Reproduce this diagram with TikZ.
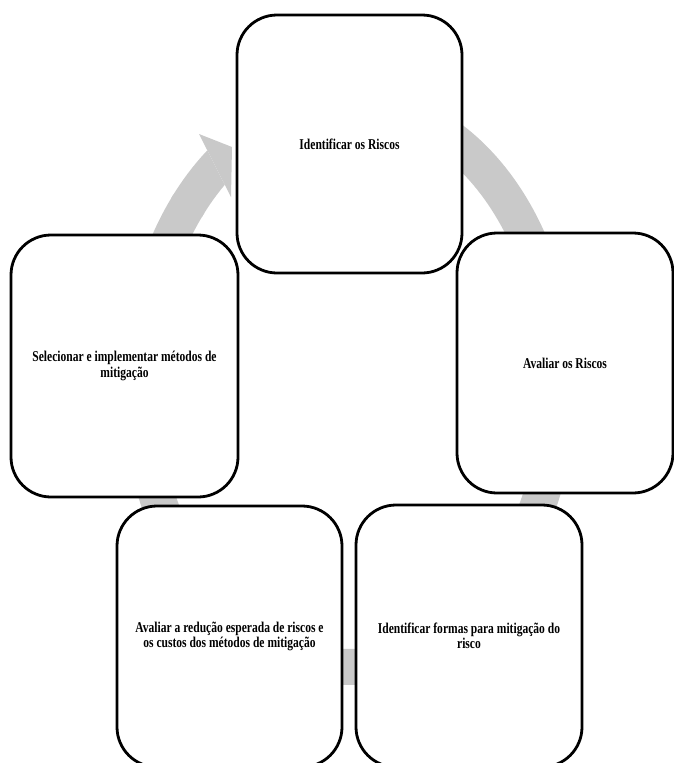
\documentclass[tikz,border=0pt]{standalone}
\usepackage{fontspec}
\setmainfont{Liberation Serif}[FakeStretch=0.77]
\definecolor{ringgray}{RGB}{201,201,201}
\begin{document}
\begin{tikzpicture}[x=1pt,y=-1pt,
  box/.style={draw=black, line width=2.8pt, fill=white, rounded corners=40pt,
    align=center, inner sep=0pt, font=\fontsize{15}{15.5}\selectfont\bfseries},
  ring/.style={ringgray, line width=36pt}]
\useasboundingbox (0,0) rectangle (674,763);
% circular arrow (ellipse band)
\draw[ring] plot[domain=-220:75, samples=150, smooth] ({349+209*cos(\x)},{385-282*sin(\x)});
\begin{scope}
  \clip (103,-55) -- (327,386) -- (-300,386) -- (-300,-55) -- cycle;
  \draw[ring] plot[domain=124:141, samples=20, smooth] ({349+209*cos(\x)},{385-282*sin(\x)});
\end{scope}
\coordinate (hb1) at (199,134);
\coordinate (ht) at (232,147);
\coordinate (hb2) at (231,197);
\fill[ringgray] (hb1) -- (ht) -- (hb2) -- cycle;
% boxes
\node[box, minimum width=225pt, minimum height=258pt] (n1) at (349.5,144) {Identificar os Riscos};
\node[box, minimum width=216pt, minimum height=260pt] (n2) at (565,363) {Avaliar os Riscos};
\node[box, minimum width=226pt, minimum height=262pt] (n3) at (469,636) {Identificar formas para mitigação do\\risco};
\node[box, minimum width=225pt, minimum height=261pt] (n4) at (229.5,636.5) {Avaliar a redução esperada de riscos e\\os custos dos métodos de mitigação};
\node[box, minimum width=227pt, minimum height=262pt] (n5) at (124.5,366) {Selecionar e implementar métodos de\\mitigação};
\end{tikzpicture}
\end{document}
